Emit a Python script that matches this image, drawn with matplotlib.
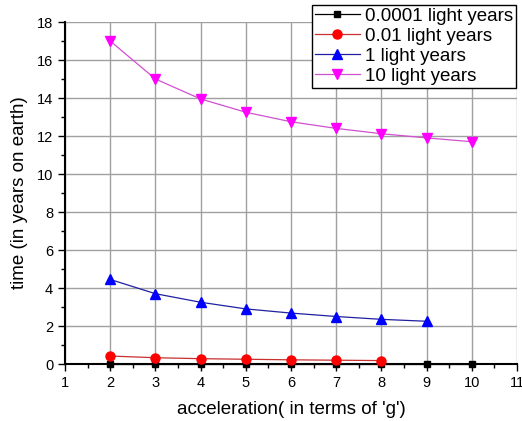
import matplotlib
matplotlib.use("Agg")
import matplotlib.pyplot as plt
from matplotlib.ticker import MultipleLocator

plt.rcParams['font.family'] = ['Liberation Sans', 'DejaVu Sans']

x_black = [2, 3, 4, 5, 6, 7, 8, 9, 10]
y_black = [0.01, 0.01, 0.01, 0.01, 0.01, 0.01, 0.01, 0.01, 0.01]
x_red = [2, 3, 4, 5, 6, 7, 8]
y_red = [0.42, 0.33, 0.28, 0.25, 0.22, 0.20, 0.18]
x_blue = [2, 3, 4, 5, 6, 7, 8, 9]
y_blue = [4.45, 3.70, 3.25, 2.90, 2.68, 2.50, 2.35, 2.25]
x_mag = [2, 3, 4, 5, 6, 7, 8, 9, 10]
y_mag = [17.0, 15.0, 13.95, 13.25, 12.75, 12.4, 12.12, 11.9, 11.7]
labels = ['0.0001 light years', '0.01 light years', '1 light years', '10 light years']

fig = plt.figure(figsize=(5.22, 4.21), dpi=100)
ax = fig.add_axes([65/522, 1-364/421, (517-65)/522, (364-22)/421])

ax.plot(x_black, y_black, color='black', marker='s', markersize=5, lw=0.9, label=labels[0], clip_on=False, zorder=3)
ax.plot(x_red, y_red, color='#c83030', marker='o', markersize=6.5, markerfacecolor='red', markeredgecolor='red', lw=0.9, label=labels[1], clip_on=False, zorder=4)
ax.plot(x_blue, y_blue, color='#2020a0', marker='^', markersize=7.5, markerfacecolor='blue', markeredgecolor='blue', lw=0.9, label=labels[2], clip_on=False, zorder=4)
ax.plot(x_mag, y_mag, color='#d050d0', marker='v', markersize=7.5, markerfacecolor='magenta', markeredgecolor='magenta', lw=0.9, label=labels[3], clip_on=False, zorder=4)

ax.set_xlim(1, 11)
ax.set_ylim(0, 18)
ax.xaxis.set_major_locator(MultipleLocator(1))
ax.xaxis.set_minor_locator(MultipleLocator(0.5))
ax.yaxis.set_major_locator(MultipleLocator(2))
ax.yaxis.set_minor_locator(MultipleLocator(1))
ax.tick_params(which='major', direction='out', length=5, width=1, labelsize=10.5)
ax.tick_params(which='minor', direction='out', length=3, width=1)
ax.grid(True, which='major', color='#a0a0a0', lw=1)
ax.set_axisbelow(True)
for s in ['top', 'right']:
    ax.spines[s].set_visible(False)
for s in ['left', 'bottom']:
    ax.spines[s].set_linewidth(1.5)

ax.set_xlabel("acceleration( in terms of 'g')", fontsize=13.5, labelpad=8)
ax.set_ylabel("time (in years on earth)", fontsize=13.5, labelpad=6)

leg = fig.legend(loc='upper left', bbox_to_anchor=(312/522, 0.988), fontsize=13.5,
                 frameon=True, fancybox=False, edgecolor='black', handlelength=2.4,
                 borderpad=0.15, labelspacing=0.15, handletextpad=0.3, borderaxespad=0,
                 framealpha=1)
leg.get_frame().set_linewidth(1)

fig.savefig('out.png', dpi=100)
